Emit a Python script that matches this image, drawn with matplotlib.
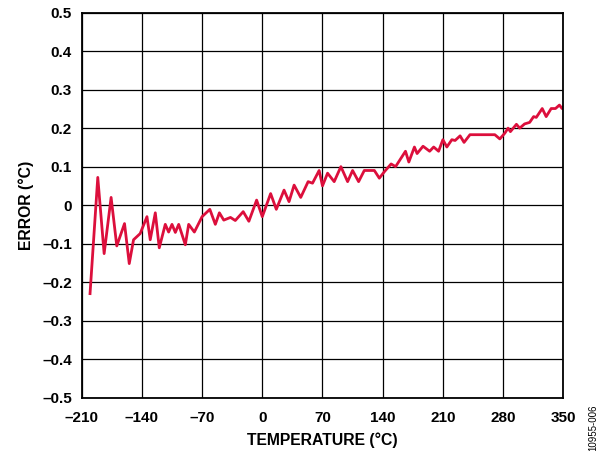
import matplotlib
matplotlib.use('Agg')
import matplotlib.pyplot as plt

plt.rcParams['font.family'] = ['Liberation Sans', 'DejaVu Sans']

# temperature (°C) and error (°C)
temp = [-200.3, -191.3, -183.9, -175.8, -169.2, -160.2, -154.7, -149.7, -142.0,
        -134.1, -130.3, -124.4, -119.8, -112.8, -108.9, -105.0, -101.1, -97.2,
        -89.5, -85.6, -79.0, -70.0, -61.0, -54.6, -49.9, -44.8, -37.0, -31.4,
        -22.2, -15.6, -6.6, 0.0, 9.7, 16.3, 25.3, 31.1, 37.0, 44.7, 53.3, 58.4,
        66.1, 70.0, 75.9, 83.6, 91.4, 99.2, 105.0, 112.0, 118.6, 130.3, 136.1,
        142.0, 149.8, 155.0, 166.5, 170.4, 176.9, 180.0, 186.9, 194.6, 199.3,
        205.0, 210.0, 214.6, 220.4, 224.2, 230.0, 234.6, 241.5, 270.4, 276.2,
        282.0, 285.8, 288.5, 295.5, 299.3, 305.0, 310.9, 315.5, 318.6, 325.5,
        330.1, 335.9, 340.9, 345.5, 348.6, 350.0]
error = [-0.230, 0.072, -0.126, 0.020, -0.106, -0.048, -0.152, -0.090, -0.074,
         -0.030, -0.090, -0.020, -0.111, -0.050, -0.070, -0.050, -0.071, -0.050,
         -0.103, -0.050, -0.070, -0.030, -0.011, -0.050, -0.020, -0.039, -0.032,
         -0.040, -0.017, -0.042, 0.013, -0.030, 0.030, -0.011, 0.039, 0.009,
         0.052, 0.020, 0.061, 0.057, 0.090, 0.050, 0.083, 0.061, 0.100, 0.061,
         0.090, 0.061, 0.090, 0.090, 0.070, 0.087, 0.107, 0.100, 0.140, 0.112,
         0.151, 0.134, 0.153, 0.140, 0.151, 0.140, 0.170, 0.151, 0.170, 0.168,
         0.180, 0.163, 0.183, 0.183, 0.172, 0.187, 0.200, 0.191, 0.210, 0.200,
         0.211, 0.215, 0.230, 0.228, 0.251, 0.230, 0.251, 0.251, 0.260, 0.251,
         0.255]

xticks = [-210, -140, -70, 0, 70, 140, 210, 280, 350]
yticks = [-0.5, -0.4, -0.3, -0.2, -0.1, 0, 0.1, 0.2, 0.3, 0.4, 0.5]


def fmt(v):
    s = '0' if v == 0 else ('%g' % abs(v))
    return ('\u2013' + s) if v < 0 else s


fig = plt.figure(figsize=(6.02, 4.51), dpi=100)
ax = fig.add_axes([0.1357, 0.1186, 0.8, 0.8532])

ax.plot(temp, error, color='#dc0f3c', lw=2.0, solid_joinstyle='round')

ax.set_xlim(-210, 350)
ax.set_ylim(-0.5, 0.5)
ax.set_xticks(xticks)
ax.set_xticklabels([fmt(v) for v in xticks])
ax.set_yticks(yticks)
ax.set_yticklabels([fmt(v) for v in yticks])
ax.tick_params(axis='x', length=0, pad=10, labelsize=11)
ax.tick_params(axis='y', length=0, pad=7, labelsize=11)
for lab in ax.get_xticklabels() + ax.get_yticklabels():
    lab.set_fontweight('bold')
ax.grid(True, color='black', lw=0.9)
for sp in ax.spines.values():
    sp.set_linewidth(1.3)

ax.set_xlabel('TEMPERATURE (°C)', fontsize=11.3, fontweight='bold', labelpad=5)
ax.set_ylabel('ERROR (°C)', fontsize=11.3, fontweight='bold', labelpad=6)

fig.text(0.985, 0.052, '10955-006', rotation=90, fontsize=7,
         ha='center', va='center')

fig.savefig('out.png', dpi=100)
